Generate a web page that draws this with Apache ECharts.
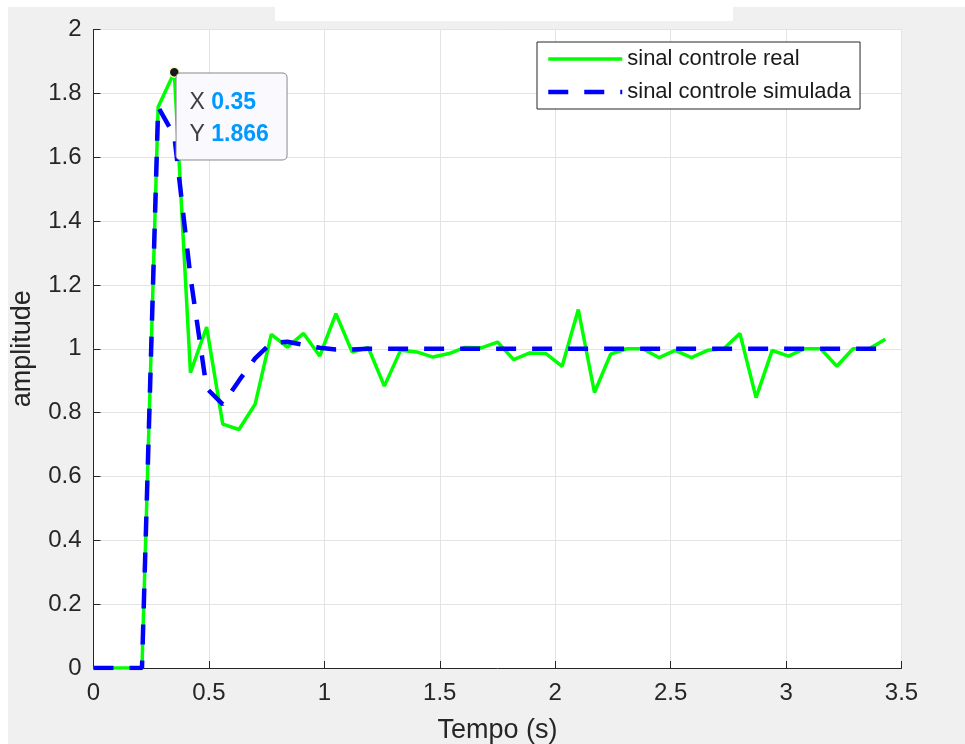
<!DOCTYPE html>
<html>
<head>
<meta charset="utf-8">
<script src="https://cdn.jsdelivr.net/npm/echarts@6/dist/echarts.min.js"></script>
<style>
html,body{margin:0;padding:0;background:#fff;}
#c{width:965px;height:744px;}
</style>
</head>
<body>
<div id="c"></div>
<script>
// time samples (s)
const tempo = [0,0.07,0.14,0.21,0.28,0.35,0.42,0.49,0.56,0.63,0.70,0.77,0.84,0.91,0.98,1.05,1.12,1.19,1.26,1.33,1.40,1.47,1.54,1.61,1.68,1.75,1.82,1.89,1.96,2.03,2.10,2.17,2.24,2.31,2.38,2.45,2.52,2.59,2.66,2.73,2.80,2.87,2.94,3.01,3.08,3.15,3.22,3.29,3.36,3.43];
// measured control signal
const sinalReal = [0,0,0,0,1.757,1.866,0.925,1.068,0.764,0.747,0.826,1.045,1.005,1.048,0.977,1.110,0.990,1.004,0.883,0.995,0.990,0.974,0.985,1.004,1.003,1.021,0.966,0.987,0.985,0.945,1.123,0.863,0.983,1.000,1.000,0.972,0.995,0.972,0.995,1.000,1.048,0.847,0.995,0.977,1.000,1.000,0.945,1.000,1.000,1.030];
// simulated control signal
const sinalSim = [0,0,0,0,1.757,1.668,1.225,0.876,0.826,0.900,0.970,1.018,1.022,1.012,1.003,0.998,0.998,1,1,1,1,1,1,1,1,1,1,1,1,1,1,1,1,1,1,1,1,1,1,1,1,1,1,1,1,1,1,1,1,1];
const seriesNames = ['sinal controle real', 'sinal controle simulada'];
const xTicks = [0, 3.5, 0.5];   // min, max, interval
const yTicks = [0, 2, 0.2];
const tipIndex = 5;

const FONT = '"Liberation Sans", Arial, Helvetica, sans-serif';
const realData = tempo.map((t, i) => [t, sinalReal[i]]);
const simData = tempo.map((t, i) => [t, sinalSim[i]]);

const chart = echarts.init(document.getElementById('c'), null, {renderer: 'canvas'});
const axisCommon = {
  axisLine: {show: true, onZero: false, lineStyle: {color: '#262626', width: 1}},
  axisTick: {show: true, inside: true, length: 7, lineStyle: {color: '#262626'}},
  axisLabel: {color: '#262626', fontSize: 24, fontFamily: FONT},
  splitLine: {show: true, lineStyle: {color: '#e3e3e3', width: 1}},
  nameTextStyle: {color: '#262626', fontSize: 27, fontFamily: FONT}
};
chart.setOption({
  backgroundColor: '#f0f0f0',
  animation: false,
  grid: {left: 93.5, right: 63.5, top: 29.5, bottom: 76, show: true, backgroundColor: '#ffffff', borderWidth: 0,
         containLabel: false, outerBoundsMode: 'none'},
  xAxis: Object.assign({}, axisCommon, {
    type: 'value', min: xTicks[0], max: xTicks[1], interval: xTicks[2],
    name: 'Tempo (s)', nameLocation: 'middle', nameGap: 49,
    axisLabel: Object.assign({}, axisCommon.axisLabel, {margin: 13})
  }),
  yAxis: Object.assign({}, axisCommon, {
    type: 'value', min: yTicks[0], max: yTicks[1], interval: yTicks[2],
    name: 'amplitude', nameLocation: 'middle', nameGap: 57,
    axisLabel: Object.assign({}, axisCommon.axisLabel, {margin: 12})
  }),
  legend: {
    orient: 'vertical', left: 537, top: 42,
    backgroundColor: '#ffffff', borderColor: '#262626', borderWidth: 1, borderRadius: 0,
    padding: [6, 9, 6, 9], itemWidth: 74, itemHeight: 14, itemGap: 11,
    textStyle: {color: '#1a1a1a', fontSize: 22, fontFamily: FONT, lineHeight: 22},
    data: [
      {name: seriesNames[0], lineStyle: {width: 3.5}, itemStyle: {opacity: 0}},
      {name: seriesNames[1], lineStyle: {width: 4.5}, itemStyle: {opacity: 0}}
    ]
  },
  graphic: [
    {type: 'rect', left: 0, top: 0, shape: {width: 965, height: 7}, style: {fill: '#ffffff'}, z: 100},
    {type: 'rect', left: 0, top: 0, shape: {width: 8, height: 744}, style: {fill: '#ffffff'}, z: 100},
    {type: 'rect', left: 275, top: 6, shape: {width: 458, height: 15}, style: {fill: '#ffffff'}, z: 100}
  ],
  series: [
    {
      name: seriesNames[0], type: 'line', data: realData, symbol: 'none', z: 2,
      lineStyle: {color: '#00ff00', width: 3.5},
      itemStyle: {color: '#00ff00'},
      markPoint: {
        symbol: 'circle', symbolSize: 10, z: 10,
        itemStyle: {color: '#1a1a1a', borderColor: '#fffcc0', borderWidth: 1.5},
        data: [{coord: [tempo[tipIndex], sinalReal[tipIndex]]}],
        label: {
          show: true, position: [8, 7],
          formatter: '{l|X} {v|' + tempo[tipIndex] + '}\n{l|Y} {v|' + sinalReal[tipIndex] + '}',
          backgroundColor: '#f9f9fe', borderColor: '#8a8a8a', borderWidth: 1, borderRadius: 4,
          padding: [13, 0, 9, 13], width: 97,
          fontSize: 23, fontFamily: FONT, color: '#404040', lineHeight: 32,
          rich: {
            l: {fontSize: 23, fontFamily: FONT, color: '#404040', lineHeight: 32},
            v: {fontSize: 23, fontFamily: FONT, color: '#0099ff', fontWeight: 'bold', lineHeight: 32}
          }
        }
      }
    },
    {
      name: seriesNames[1], type: 'line', data: simData, symbol: 'none', z: 3,
      lineStyle: {color: '#0000ff', width: 4.5, type: [20, 16], cap: 'butt'},
      itemStyle: {color: '#0000ff'}
    }
  ]
});
</script>
</body>
</html>
